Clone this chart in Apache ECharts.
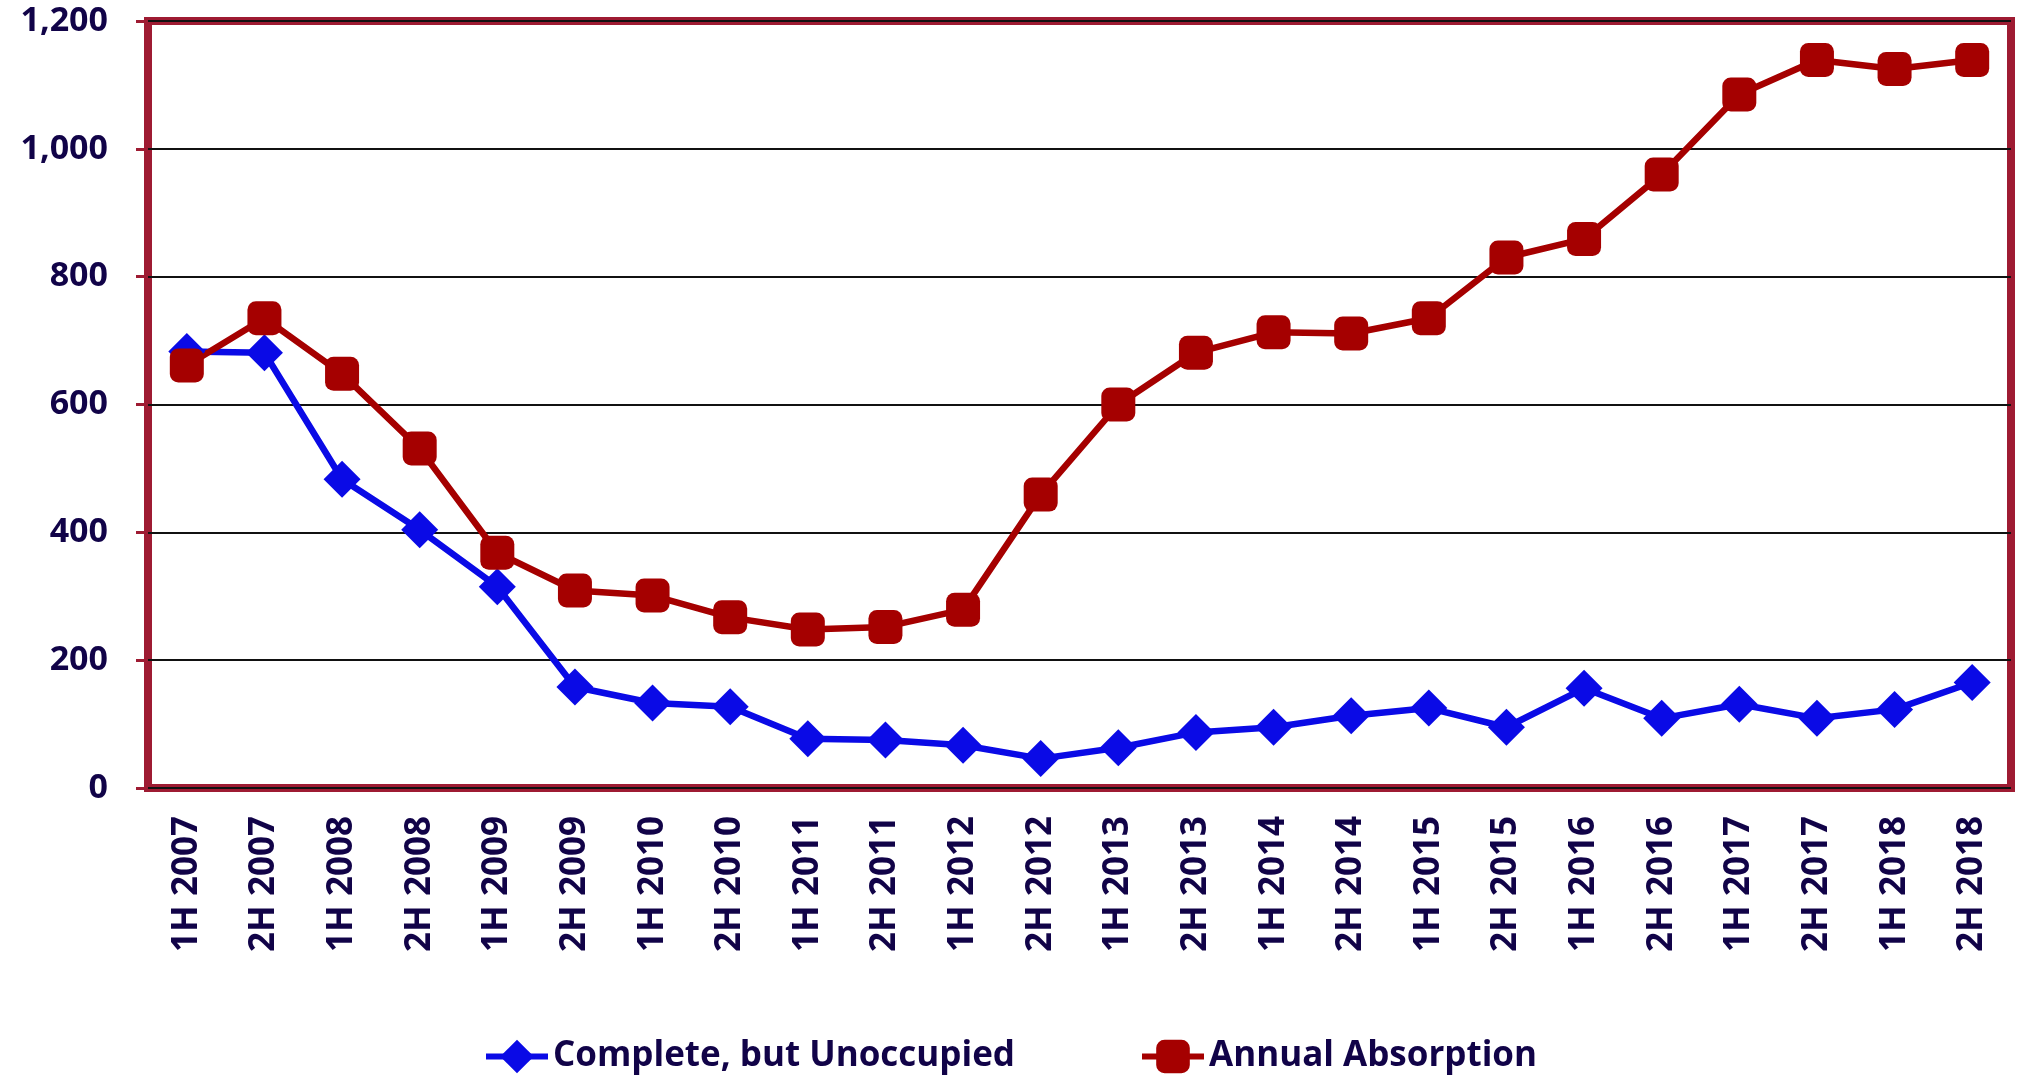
<!DOCTYPE html>
<html>
<head>
<meta charset="utf-8">
<script src="https://cdn.jsdelivr.net/npm/echarts@6/dist/echarts.min.js"></script>
<style>
  html, body { margin: 0; padding: 0; background: #fff; }
  #main { width: 2024px; height: 1081px; }
</style>
</head>
<body>
<div id="main"></div>
<script>
// half-year periods
const periods = ['1H 2007', '2H 2007', '1H 2008', '2H 2008', '1H 2009', '2H 2009',
  '1H 2010', '2H 2010', '1H 2011', '2H 2011', '1H 2012', '2H 2012',
  '1H 2013', '2H 2013', '1H 2014', '2H 2014', '1H 2015', '2H 2015',
  '1H 2016', '2H 2016', '1H 2017', '2H 2017', '1H 2018', '2H 2018']

const unoccupied = [683, 681, 483, 404, 315, 158, 133, 127, 77, 75, 67, 46,
  63, 87, 95, 113, 125, 95, 156, 109, 131, 109, 123, 165]

const absorption = [661, 735, 648, 531, 368, 309, 301, 267, 248, 252, 279, 459,
  600, 681, 713, 711, 735, 830, 859, 960, 1085, 1139, 1125, 1139]

const yTicks = [0, 200, 400, 600, 800, 1000, 1200]

const textColor = '#110348'
const frameColor = '#9E1B32'
const font = '"Open Sans", sans-serif'

const myChart = echarts.init(document.getElementById('main'))
myChart.setOption({
  animation: false,
  grid: {
    left: 148,
    right: 13,
    top: 21,
    bottom: 293,
    show: true,
    borderColor: frameColor,
    borderWidth: 8,
    backgroundColor: '#fff'
  },
  legend: {
    left: 478,
    top: 1034,
    itemWidth: 62,
    itemHeight: 42,
    itemGap: 124,
    lineStyle: { width: 6 },
    textStyle: {
      color: textColor,
      fontFamily: font,
      fontWeight: 'bold',
      fontSize: 35
    },
    data: ['Complete, but Unoccupied', 'Annual Absorption']
  },
  xAxis: {
    type: 'category',
    data: periods,
    boundaryGap: true,
    axisLine: { show: false },
    axisTick: { show: false },
    axisLabel: {
      rotate: 90,
      margin: 28,
      color: textColor,
      fontFamily: font,
      fontWeight: 'bold',
      fontSize: 35,
      interval: 0
    }
  },
  yAxis: {
    type: 'value',
    min: yTicks[0],
    max: yTicks[yTicks.length - 1],
    interval: 200,
    axisLine: { show: false },
    axisTick: {
      show: true,
      length: 12,
      lineStyle: { color: frameColor, width: 3 }
    },
    splitLine: {
      show: true,
      lineStyle: { color: '#111', width: 2 }
    },
    axisLabel: {
      margin: 40,
      color: textColor,
      fontFamily: font,
      fontWeight: 'bold',
      fontSize: 34,
      formatter: v => v.toLocaleString('en-US')
    }
  },
  series: [
    {
      name: 'Complete, but Unoccupied',
      type: 'line',
      data: unoccupied,
      symbol: 'diamond',
      symbolSize: 37,
      color: '#0A0AE6',
      lineStyle: { width: 6.5, color: '#0A0AE6' },
      itemStyle: { color: '#0A0AE6' }
    },
    {
      name: 'Annual Absorption',
      type: 'line',
      data: absorption,
      symbol: 'roundRect',
      symbolSize: 34,
      color: '#A50000',
      lineStyle: { width: 6.5, color: '#A50000' },
      itemStyle: { color: '#A50000' }
    }
  ]
})
</script>
</body>
</html>
